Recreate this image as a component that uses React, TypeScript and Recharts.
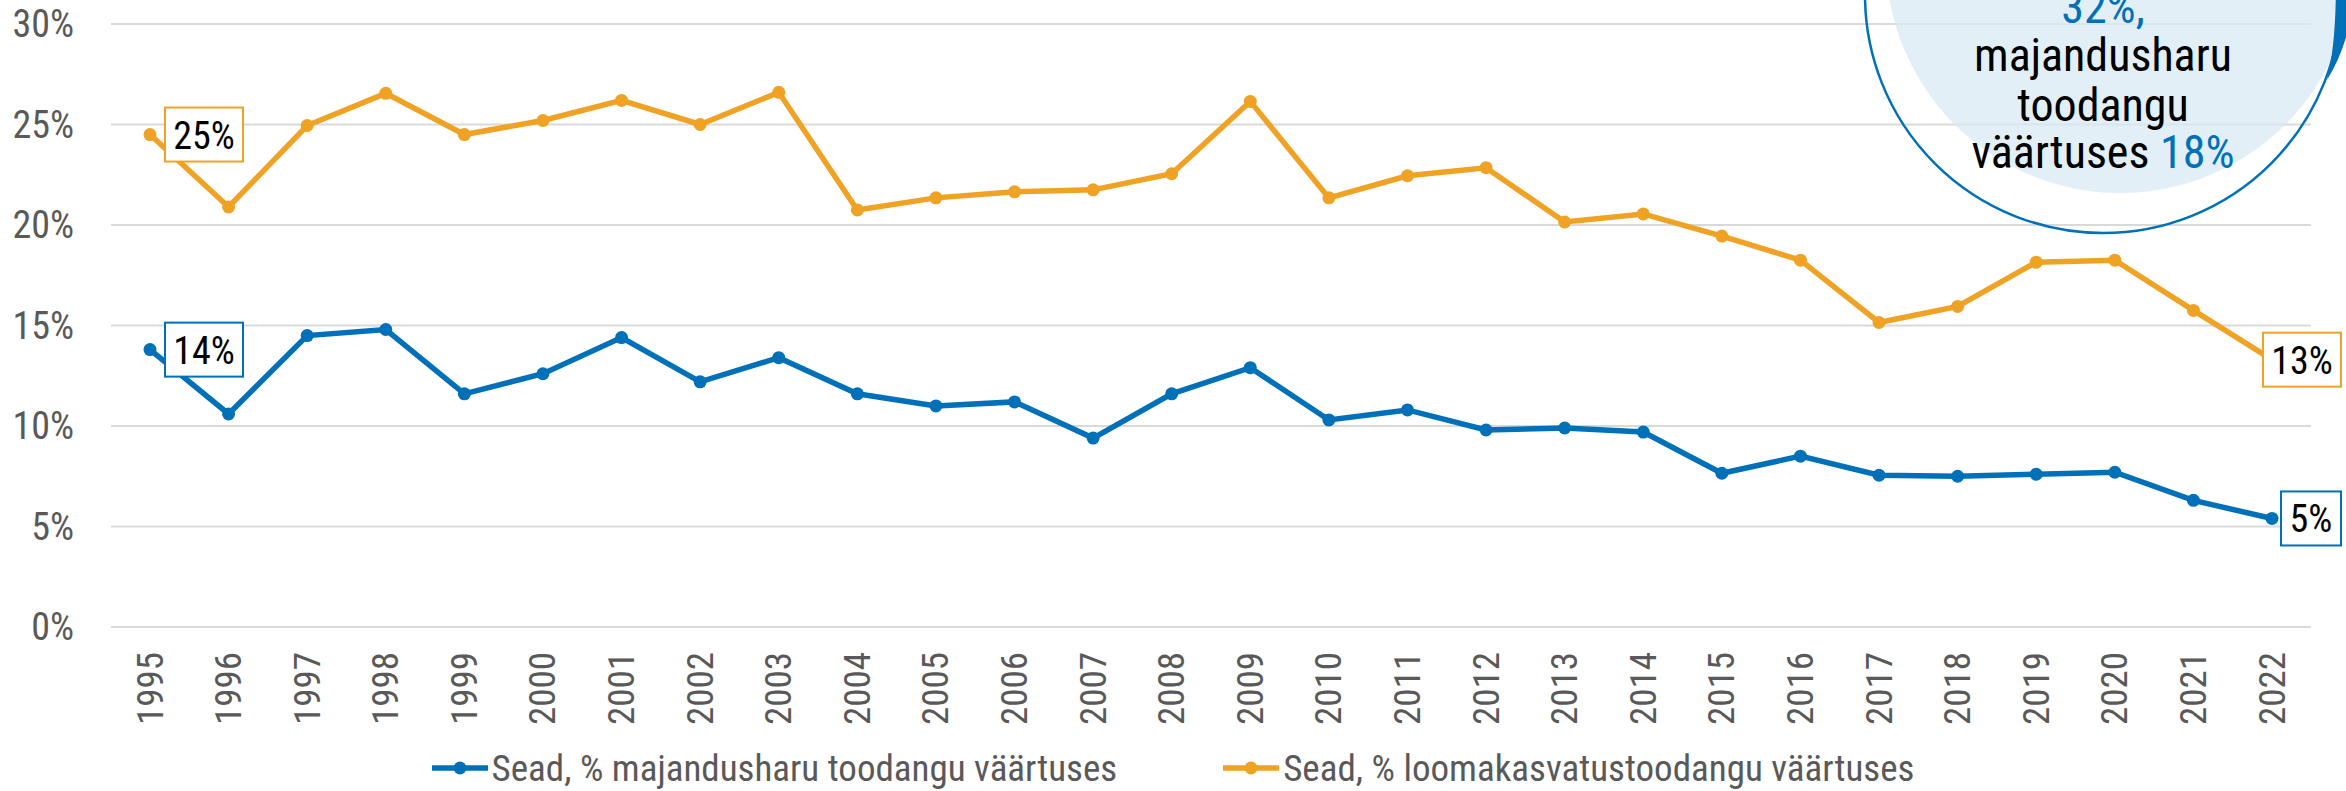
import React from "react";
import { LineChart, Line, XAxis, YAxis, CartesianGrid, Legend } from "recharts";

const FONT =
  '"Roboto Condensed", "Liberation Sans Narrow", "Arial Narrow", "DejaVu Sans Condensed", Roboto, sans-serif';

const BLUE = "#0070B8";
const ORANGE = "#F0A224";
const GREY_TEXT = "#595959";

// aastad
const years = [
  "1995", "1996", "1997", "1998", "1999", "2000", "2001", "2002", "2003", "2004",
  "2005", "2006", "2007", "2008", "2009", "2010", "2011", "2012", "2013", "2014",
  "2015", "2016", "2017", "2018", "2019", "2020", "2021", "2022",
];

// Sead, % majandusharu toodangu väärtuses
const shareOfIndustry = [
  13.8, 10.6, 14.5, 14.8, 11.6, 12.6, 14.4, 12.2, 13.4, 11.6,
  11.0, 11.2, 9.4, 11.6, 12.9, 10.3, 10.8, 9.8, 9.9, 9.7,
  7.65, 8.5, 7.55, 7.5, 7.6, 7.7, 6.3, 5.4,
];

// Sead, % loomakasvatustoodangu väärtuses
const shareOfLivestock = [
  24.5, 20.9, 24.95, 26.55, 24.5, 25.2, 26.2, 25.0, 26.6, 20.75,
  21.35, 21.65, 21.75, 22.55, 26.15, 21.35, 22.45, 22.85, 20.15, 20.55,
  19.45, 18.25, 15.15, 15.95, 18.15, 18.25, 15.75, 13.3,
];

const yTicks = [0, 5, 10, 15, 20, 25, 30];

const seriesNames = {
  industry: "Sead, % majandusharu toodangu väärtuses",
  livestock: "Sead, % loomakasvatustoodangu väärtuses",
};

const data = years.map((year, i) => ({
  year,
  industry: shareOfIndustry[i],
  livestock: shareOfLivestock[i],
}));

const lastIndex = years.length - 1;

const YearTick = (props: any) => {
  const { x, y, payload } = props;
  return (
    <text
      transform={`translate(${x},${y}) rotate(-90)`}
      textAnchor="end"
      dominantBaseline="central"
      fontFamily={FONT}
      fontSize={37}
      fill={GREY_TEXT}
    >
      {payload.value}
    </text>
  );
};

const PctTick = (props: any) => {
  const { y, payload } = props;
  return (
    <text
      x={74}
      y={y}
      textAnchor="end"
      dominantBaseline="central"
      fontFamily={FONT}
      fontSize={38}
      fill={GREY_TEXT}
    >
      {payload.value}%
    </text>
  );
};

// kasti silt ainult esimesele ja viimasele punktile
const edgeLabel = (color: string) => (props: any) => {
  const { x, y, index, value } = props;
  if (index !== 0 && index !== lastIndex) return null;
  const text = `${Math.round(value)}%`;
  const w = 18 * text.length + 24;
  const h = 54;
  const left = index === 0 ? x + 15 : x + 69 - w;
  return (
    <g key={`lbl-${color}-${index}`}>
      <rect x={left} y={y - h / 2} width={w} height={h} fill="#fff" stroke={color} strokeWidth={2} />
      <text
        x={left + w / 2}
        y={y + 1}
        textAnchor="middle"
        dominantBaseline="central"
        fontFamily={FONT}
        fontSize={38}
        fill="#000"
      >
        {text}
      </text>
    </g>
  );
};

const LegendMarker = ({ color }: { color: string }) => (
  <svg width={56} height={20} style={{ display: "block" }}>
    <line x1={0} x2={56} y1={10} y2={10} stroke={color} strokeWidth={5.5} />
    <circle cx={28} cy={10} r={6.5} fill={color} />
  </svg>
);

const renderLegend = () => (
  <div
    style={{
      display: "flex",
      justifyContent: "center",
      alignItems: "center",
      gap: 106,
      height: 48,
      paddingTop: 6,
      paddingBottom: 4,
      boxSizing: "border-box",
      fontFamily: FONT,
      fontSize: 37,
      lineHeight: "37px",
      color: GREY_TEXT,
      whiteSpace: "nowrap",
    }}
  >
    <div style={{ display: "flex", alignItems: "center" }}>
      <LegendMarker color={BLUE} />
      <span style={{ marginLeft: 4 }}>{seriesNames.industry}</span>
    </div>
    <div style={{ display: "flex", alignItems: "center" }}>
      <LegendMarker color={ORANGE} />
      <span style={{ marginLeft: 4 }}>{seriesNames.livestock}</span>
    </div>
  </div>
);

// ring paremas ülanurgas
const Callout = () => (
  <svg
    width={2346}
    height={791}
    style={{ position: "absolute", left: 0, top: 0, pointerEvents: "none" }}
  >
    <circle cx={2120} cy={-41} r={234} fill="#dae9f4" fillOpacity={0.75} />
    <circle cx={2103} cy={-5} r={238} fill="none" stroke={BLUE} strokeWidth={2.5} />
    <path
      d="M 2336 -20 L 2356 -20 Q 2352 40 2327 80 Q 2336 45 2336 -20 Z"
      fill={BLUE}
    />
    <g fontFamily={FONT} fontSize={46} textAnchor="middle">
      <text x={2103} y={23} fill={BLUE}>32%,</text>
      <text x={2103} y={71} fill="#000">majandusharu</text>
      <text x={2103} y={121} fill="#000">toodangu</text>
      <text x={2103} y={168} fill="#000">
        väärtuses <tspan fill={BLUE}>18%</tspan>
      </text>
    </g>
  </svg>
);

export default function App() {
  return (
    <div
      style={{
        position: "fixed",
        left: 0,
        top: 0,
        width: 2346,
        height: 791,
        background: "#fff",
        overflow: "hidden",
      }}
    >
      <LineChart
        width={2346}
        height={791}
        data={data}
        margin={{ top: 24, right: 35, bottom: 0, left: 0 }}
      >
        <CartesianGrid vertical={false} stroke="#d9d9d9" strokeWidth={2} />
        <XAxis
          dataKey="year"
          axisLine={false}
          tickLine={false}
          tickSize={0}
          tickMargin={25}
          interval={0}
          height={116}
          padding={{ left: 39, right: 39 }}
          tick={<YearTick />}
        />
        <YAxis
          domain={[0, 30]}
          ticks={yTicks}
          width={111}
          axisLine={false}
          tickLine={false}
          tick={<PctTick />}
        />
        <Legend content={renderLegend} height={48} wrapperStyle={{ left: 0, width: 2346 }} />
        <Line
          dataKey="industry"
          name={seriesNames.industry}
          stroke={BLUE}
          strokeWidth={5.5}
          dot={{ r: 6.5, fill: BLUE, stroke: BLUE, strokeWidth: 0 }}
          activeDot={false}
          label={edgeLabel(BLUE)}
          isAnimationActive={false}
        />
        <Line
          dataKey="livestock"
          name={seriesNames.livestock}
          stroke={ORANGE}
          strokeWidth={5.5}
          dot={{ r: 6.5, fill: ORANGE, stroke: ORANGE, strokeWidth: 0 }}
          activeDot={false}
          label={edgeLabel(ORANGE)}
          isAnimationActive={false}
        />
      </LineChart>
      <Callout />
    </div>
  );
}
